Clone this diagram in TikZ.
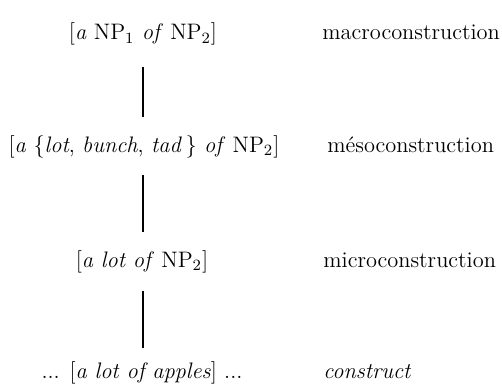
\documentclass[tikz,border=0pt]{standalone}
\begin{document}
\begin{tikzpicture}[x=0.5pt,y=-0.5pt,
  lab/.style={inner sep=0pt,anchor=base,font=\fontsize{11.2}{13}\selectfont},
  rlab/.style={inner sep=0pt,anchor=base west,font=\fontsize{11.2}{13}\selectfont},
  link/.style={line width=0.6pt}]
\useasboundingbox (0,0) rectangle (502,390);
\node[lab] (c1) at (143,40) {[\textit{a} NP\textsubscript{1} \textit{of} NP\textsubscript{2}]};
\node[lab] (c2) at (144,152) {[\textit{a} \{\textit{lot}, \textit{bunch}, \textit{tad}\,\} \textit{of} NP\textsubscript{2}]};
\node[lab] (c3) at (142,267) {[\textit{a lot of} NP\textsubscript{2}]};
\node[lab] (c4) at (142,378) {... [\textit{a lot of apples}] ...};
\node[rlab] (l1) at (322,40) {macroconstruction};
\node[rlab] (l2) at (327,152) {mésoconstruction};
\node[rlab] (l3) at (323,267) {microconstruction};
\node[rlab] (l4) at (323,378) {\textit{construct}};
\draw[link,shorten <=10.7pt,shorten >=9pt] (c1.south -| 143,0) -- (c2.north -| 143,0);
\draw[link,shorten <=8.7pt,shorten >=9.1pt] (c2.south -| 143,0) -- (c3.north -| 143,0);
\draw[link,shorten <=9.2pt,shorten >=6.6pt] (c3.south -| 143,0) -- (c4.north -| 143,0);
\end{tikzpicture}
\end{document}
